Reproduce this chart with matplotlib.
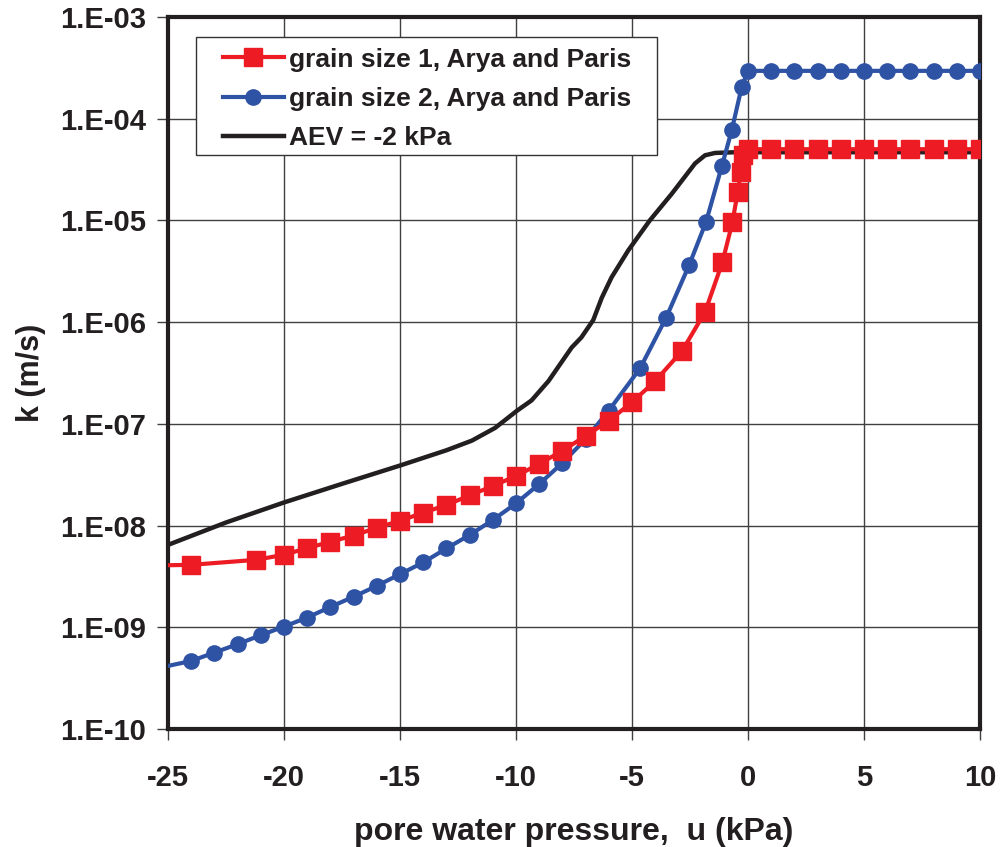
import numpy as np
import matplotlib
matplotlib.use('Agg')
import matplotlib.pyplot as plt
from matplotlib.ticker import FixedLocator, FixedFormatter, NullLocator
from matplotlib.patches import Rectangle

plt.rcParams['font.family'] = ['Liberation Sans', 'DejaVu Sans']
plt.rcParams['font.weight'] = 'bold'
plt.rcParams['axes.unicode_minus'] = False

# grain size 1 (red squares): pore pressure (kPa), log10 k (m/s)
# first point is the line start at the axis edge (no marker)
u1 = [-25, -24, -21.2, -20, -19, -18, -17, -16, -15, -14, -13, -12, -11, -10, -9, -8, -7,
      -6, -5, -4, -2.83, -1.85, -1.1, -0.67, -0.44, -0.31, -0.2, 0,
      1, 2, 3, 4, 5, 6, 7, 8, 9, 10]
logk1 = [-8.39, -8.386, -8.337, -8.287, -8.222, -8.159, -8.098, -8.022, -7.953, -7.874, -7.798,
         -7.704, -7.611, -7.513, -7.395, -7.264, -7.12,
         -6.97, -6.788, -6.58, -6.28, -5.90, -5.41, -5.017, -4.72, -4.525, -4.36, -4.30,
         -4.30, -4.30, -4.30, -4.30, -4.30, -4.30, -4.30, -4.30, -4.30, -4.30]

# grain size 2 (blue circles)
u2 = [-25, -24, -23, -22, -21, -20, -19, -18, -17, -16, -15, -14, -13, -12, -11, -10, -9, -8, -7,
      -6, -4.65, -3.53, -2.53, -1.81, -1.13, -0.70, -0.27, 0,
      1, 2, 3, 4, 5, 6, 7, 8, 9, 10]
logk2 = [-9.38, -9.331, -9.249, -9.166, -9.078, -8.993, -8.905, -8.80, -8.70, -8.593, -8.478,
         -8.363, -8.225, -8.093, -7.946, -7.782, -7.592, -7.385, -7.15,
         -6.87, -6.454, -5.958, -5.436, -5.017, -4.47, -4.114, -3.688, -3.53,
         -3.53, -3.53, -3.53, -3.53, -3.53, -3.53, -3.53, -3.53, -3.53, -3.53]

# AEV = -2 kPa (black line)
u3 = [-25, -22.5, -20, -17.5, -15, -13, -11.9, -10.9, -9.95, -9.33, -8.6, -8.04, -7.6, -7.18,
      -6.67, -6.3, -5.88, -5.16, -4.23, -3.29, -2.28, -1.85, -1.42, -0.56, 10]
logk3 = [-8.19, -7.97, -7.773, -7.59, -7.41, -7.26, -7.165, -7.04, -6.87, -6.77, -6.58, -6.395,
         -6.25, -6.15, -5.98, -5.76, -5.56, -5.295, -5.0, -4.74, -4.44, -4.36, -4.337, -4.33, -4.33]

labels = ['grain size 1, Arya and Paris', 'grain size 2, Arya and Paris', 'AEV = -2 kPa']

xticks = [-25, -20, -15, -10, -5, 0, 5, 10]
yticks = [1e-10, 1e-9, 1e-8, 1e-7, 1e-6, 1e-5, 1e-4, 1e-3]
ytick_labels = ['1.E-10', '1.E-09', '1.E-08', '1.E-07', '1.E-06', '1.E-05', '1.E-04', '1.E-03']

red = '#ED1C24'
blue = '#2E52A4'
black = '#231F20'

fig = plt.figure(figsize=(10.01, 8.47), dpi=100)
ax = fig.add_axes([0.1678, 0.1393, 0.8112, 0.8407])

ax.plot(u3, 10 ** np.array(logk3), color=black, lw=3.2, label=labels[2], zorder=3)
ax.plot(u2, 10 ** np.array(logk2), color=blue, lw=3, marker='o', ms=11,
        markevery=list(range(1, len(u2))), label=labels[1], zorder=4)
ax.plot(u1, 10 ** np.array(logk1), color=red, lw=3, marker='s', ms=13,
        markevery=list(range(1, len(u1))), label=labels[0], zorder=5)

ax.set_yscale('log')
ax.set_xlim(-25, 10)
ax.set_ylim(1e-10, 1e-3)
ax.xaxis.set_major_locator(FixedLocator(xticks))
ax.yaxis.set_major_locator(FixedLocator(yticks))
ax.yaxis.set_major_formatter(FixedFormatter(ytick_labels))
ax.yaxis.set_minor_locator(NullLocator())
ax.grid(True, color='#404040', lw=1)
ax.set_axisbelow(True)
for s in ax.spines.values():
    s.set_linewidth(3)
    s.set_color(black)
ax.tick_params(axis='both', direction='out', length=8, width=1, color='#404040',
               labelsize=21, pad=8, labelcolor=black)
ax.tick_params(axis='x', pad=17)

ax.set_xlabel('pore water pressure,  u (kPa)', fontsize=23, fontweight='bold', labelpad=18, color=black)
ax.set_ylabel('k (m/s)', fontsize=22, fontweight='bold', labelpad=10, color=black)

# legend box
ax.add_patch(Rectangle((0.0345, 0.806), 0.5675, 0.166, transform=ax.transAxes,
                       facecolor='white', edgecolor='#333333', lw=1, zorder=6))
h, l = ax.get_legend_handles_labels()
leg = ax.legend([h[2], h[1], h[0]], [l[2], l[1], l[0]], loc='upper left',
                bbox_to_anchor=(0.0677, 0.957), borderaxespad=0, borderpad=0, fontsize=19,
                handlelength=2.3, frameon=False, labelspacing=0.58, handletextpad=0.2)
leg.set_zorder(7)
for t in leg.get_texts():
    t.set_fontweight('bold')
    t.set_color(black)

fig.savefig('out.png', dpi=100)
